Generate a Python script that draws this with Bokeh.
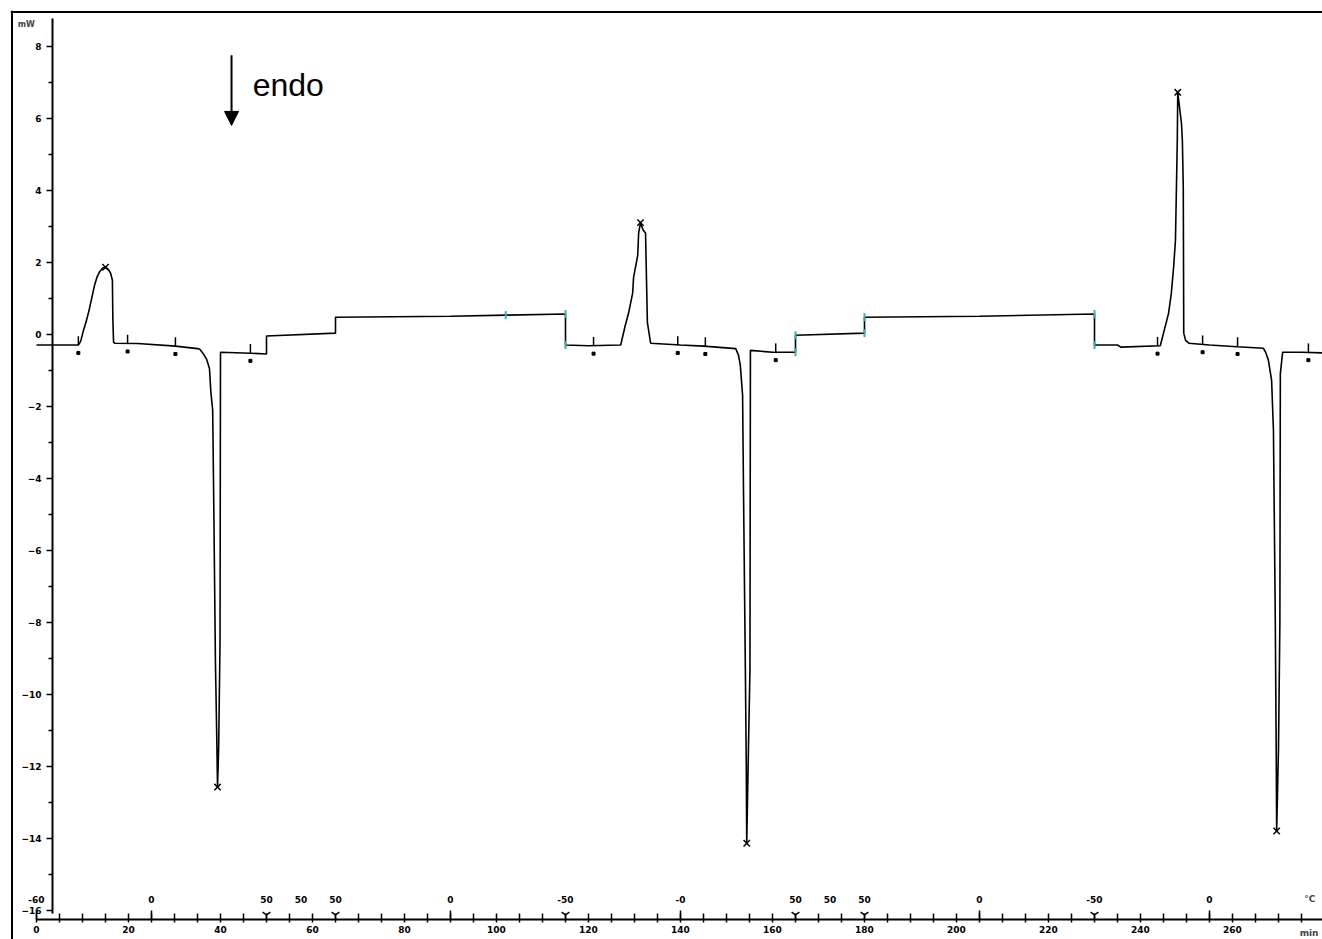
from bokeh.plotting import figure
from bokeh.models import (Range1d, FixedTicker, LabelSet, Label, ColumnDataSource,
                          Arrow, NormalHead, Span)
from bokeh.embed import file_html
from bokeh.resources import INLINE
from bokeh.core.properties import value

# ---------------- data ----------------
time_min = [
    0.0, 9.1,
    9.6, 10.2, 10.8, 11.4, 12.0, 12.6, 13.2, 13.8, 14.4, 15.0, 15.6, 16.1, 16.5, 16.6, 16.75, 17.0,
    22.0, 30.2, 35.0,
    35.5, 36.3, 37.0, 37.6, 37.9, 38.3, 38.5, 38.9, 39.2, 39.35, 39.6, 39.9, 40.0,
    45.0, 50.0, 50.0, 65.0, 65.0, 90.0, 102.0, 115.0, 115.0,
    120.0, 127.0,
    127.4, 128.0, 128.7, 129.6, 129.8, 130.7, 130.9, 131.3, 131.9, 132.4, 132.8, 133.5,
    140.0, 145.0, 152.0,
    152.6, 153.0, 153.5, 153.7, 154.1, 154.3, 154.4, 154.7, 155.1, 155.2,
    160.0, 165.0, 165.0, 180.0, 180.0, 205.0, 230.0, 230.0,
    235.0, 235.7, 244.3,
    245.0, 246.1, 246.7, 247.2, 247.6, 248.0, 248.1, 248.9, 249.1, 249.3, 249.4, 249.8, 250.5,
    255.0, 261.0, 266.7,
    267.2, 267.8, 268.5, 268.9, 269.3, 269.5, 269.6, 270.0, 270.3, 270.4, 270.9,
    275.0, 280.0,
]
heat_flow_mw = [
    -0.30, -0.30,
    -0.20, 0.10, 0.35, 0.65, 1.00, 1.35, 1.60, 1.75, 1.84, 1.86, 1.80, 1.70, 1.50, 0.40, -0.22, -0.25,
    -0.26, -0.33, -0.40,
    -0.42, -0.55, -0.70, -0.95, -1.60, -2.10, -4.30, -9.10, -11.30, -12.58, -11.50, -8.50, -0.50,
    -0.52, -0.55, -0.05, 0.03, 0.47, 0.50, 0.53, 0.56, -0.30,
    -0.32, -0.30,
    -0.08, 0.25, 0.58, 1.14, 1.58, 2.19, 2.81, 3.10, 2.89, 2.81, 0.33, -0.25,
    -0.30, -0.33, -0.40,
    -0.58, -0.86, -1.70, -4.40, -9.30, -12.00, -14.14, -12.00, -9.30, -0.45,
    -0.50, -0.50, -0.03, 0.03, 0.47, 0.50, 0.56, -0.30,
    -0.30, -0.36, -0.32,
    0.03, 0.58, 1.14, 1.86, 2.61, 5.39, 6.72, 5.86, 5.39, 4.08, 0.03, -0.17, -0.25,
    -0.30, -0.35, -0.39,
    -0.50, -0.72, -1.28, -2.66, -7.92, -11.50, -13.80, -11.50, -8.00, -1.10, -0.50,
    -0.50, -0.52,
]

# evaluated peak maxima / minima
peak_t = [15.0, 39.35, 131.3, 154.4, 248.1, 269.6]
peak_mw = [1.86, -12.58, 3.10, -14.14, 6.72, -13.80]

# integration limits (black marks)
limit_t = [9.1, 19.8, 30.2, 46.5, 121.1, 139.4, 145.4, 160.7, 243.7, 253.5, 261.1, 276.5]
limit_mw = [-0.30, -0.26, -0.33, -0.52, -0.32, -0.30, -0.33, -0.50, -0.32, -0.28, -0.33, -0.50]

# segment-step marks (cyan)
step_t = [102.0, 115.0, 115.0, 165.0, 165.0, 180.0, 180.0, 230.0, 230.0]
step_mw = [0.53, 0.56, -0.30, -0.50, -0.03, 0.03, 0.47, 0.56, -0.30]

# temperature program row (°C)
temp_t = [0, 25, 50, 57.5, 65, 90, 115, 140, 165, 172.5, 180, 205, 230, 255]
temp_labels = ["-60", "0", "50", "50", "50", "0", "-50", "-0", "50", "50", "50", "0", "-50", "0"]
segment_end_t = [50, 65, 115, 165, 180, 230]
segment_mid_t = [0, 25, 90, 140, 205, 255]

x_ticks = list(range(0, 261, 20))
x_minor = [t for t in range(5, 280, 5) if t % 20 != 0]
y_ticks = list(range(-16, 9, 2))
y_minor = list(range(-15, 8, 2))

# ---------------- figure ----------------
X0, X1 = -5.652, 279.565      # frame spans the whole inner box
Y0, Y1 = -16.814, 8.992
X_AXIS_AT = -16.258           # level of the time axis
Y_AXIS_AT = 3.48              # time at which the mW axis stands

p = figure(width=1322, height=939, x_range=Range1d(X0, X1), y_range=Range1d(Y0, Y1),
           output_backend="svg", toolbar_location=None,
           min_border_left=10, min_border_right=0, min_border_top=10, min_border_bottom=0)
p.grid.visible = False
p.outline_line_color = None
p.background_fill_color = "white"
p.border_fill_color = "white"

TICK_FONT = "DejaVu Sans"
for ax in (p.xaxis[0], p.yaxis[0]):
    ax.axis_line_width = 2
    ax.axis_line_color = "black"
    ax.major_tick_line_width = 1.5
    ax.minor_tick_line_width = 1.5
    ax.major_label_text_font = TICK_FONT
    ax.major_label_text_font_style = "bold"
    ax.major_label_text_font_size = "9px"
    ax.major_label_text_color = "black"

p.xaxis.ticker = FixedTicker(ticks=x_ticks, minor_ticks=x_minor)
p.xaxis.major_tick_in = 6
p.xaxis.major_tick_out = 3
p.xaxis.minor_tick_in = 6
p.xaxis.minor_tick_out = 3
p.xaxis.major_label_standoff = 4
p.xaxis.fixed_location = X_AXIS_AT
p.xaxis.bounds = (0, X1)

p.yaxis.ticker = FixedTicker(ticks=y_ticks, minor_ticks=y_minor)
p.yaxis.major_tick_in = 0
p.yaxis.major_tick_out = 6
p.yaxis.minor_tick_in = 0
p.yaxis.minor_tick_out = 4
p.yaxis.major_label_standoff = 5
p.yaxis.fixed_location = Y_AXIS_AT
p.yaxis.bounds = (-16.1, 8.78)

# curve
p.line(time_min, heat_flow_mw, line_width=1.6, color="black")

# peak marks
p.scatter(peak_t, peak_mw, marker="x", size=9, line_width=1.5, color="black")

# integration limits
p.scatter(limit_t, [v + 0.12 for v in limit_mw], marker="dash", angle=1.5708, size=9,
          line_width=1.5, color="black")
p.scatter(limit_t, [v - 0.22 for v in limit_mw], marker="square", size=3, color="black")

# cyan step marks
p.scatter(step_t, step_mw, marker="dash", angle=1.5708, size=8, line_width=2, color="#35b0b0")

# temperature program row
p.segment(x0=segment_mid_t, y0=[X_AXIS_AT] * len(segment_mid_t), x1=segment_mid_t,
          y1=[X_AXIS_AT + 0.25] * len(segment_mid_t), line_width=1.5, color="black")
p.scatter(segment_end_t, [X_AXIS_AT + 0.13] * len(segment_end_t), marker="y", size=9,
          line_width=1.5, color="black")
temp_src = ColumnDataSource(dict(t=temp_t, y=[-15.69] * len(temp_t), txt=temp_labels))
p.add_layout(LabelSet(x="t", y="y", text="txt", source=temp_src, text_align="center",
                      text_baseline="middle", text_font=value(TICK_FONT),
                      text_font_style="bold", text_font_size="9px", text_color="black"))

# unit labels
p.add_layout(Label(x=-4.1, y=8.61, text="mW", text_font=TICK_FONT, text_font_style="bold",
                   text_font_size="8px", text_baseline="middle", text_align="left"))
p.add_layout(Label(x=275.6, y=-15.69, text="°C", text_font=TICK_FONT, text_font_style="bold",
                   text_font_size="9px", text_baseline="middle", text_align="left"))
p.add_layout(Label(x=274.6, y=-16.64, text="min", text_font=TICK_FONT, text_font_style="bold",
                   text_font_size="9px", text_baseline="middle", text_align="left"))

# endo arrow
p.add_layout(Arrow(end=NormalHead(size=14, fill_color="black", line_color="black"),
                   x_start=42.4, y_start=7.75, x_end=42.4, y_end=5.8,
                   line_width=2, line_color="black"))
p.add_layout(Label(x=47.0, y=6.92, text="endo", text_font="Liberation Sans",
                   text_font_size="32px", text_baseline="middle", text_align="left",
                   text_color="black"))

# outer frame (top and left edges)
p.add_layout(Span(location=-5.326, dimension="height", line_color="black", line_width=2))
p.add_layout(Span(location=8.95, dimension="width", line_color="black", line_width=2))

open("out.html", "w").write(file_html(p, INLINE))
